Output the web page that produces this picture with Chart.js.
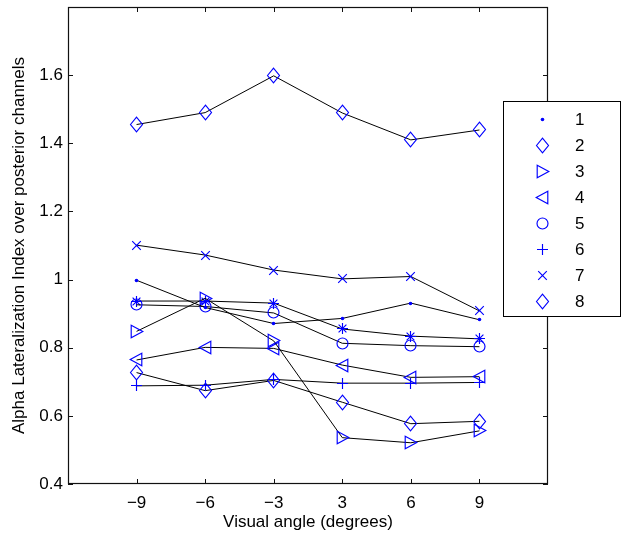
<!DOCTYPE html>
<html>
<head>
<meta charset="utf-8">
<script src="https://cdn.jsdelivr.net/npm/chart.js@4/dist/chart.umd.min.js"></script>
<style>
  html, body { margin: 0; padding: 0; background: #fff; }
  #wrap { width: 621px; height: 536px; }
</style>
</head>
<body>
<div id="wrap"><canvas id="c" width="621" height="536"></canvas></div>
<script>
// ---- data ----
const angleLabels = ['\u22129', '\u22126', '\u22123', '3', '6', '9'];
const legendNames = ['1', '2', '3', '4', '5', '6', '7', '8'];
const s1 = [0.998, 0.918, 0.871, 0.886, 0.931, 0.882];
const s2 = [1.455, 1.490, 1.598, 1.489, 1.410, 1.439];
const s3 = [0.848, 0.945, 0.820, 0.536, 0.521, 0.556];
const s4 = [0.764, 0.801, 0.798, 0.749, 0.713, 0.715];
const s5 = [0.926, 0.921, 0.902, 0.813, 0.806, 0.803];
const s6 = [0.688, 0.690, 0.707, 0.696, 0.696, 0.698];
const s7 = [1.101, 1.072, 1.028, 1.002, 1.009, 0.908];
const s8 = [0.727, 0.674, 0.704, 0.640, 0.577, 0.584];
const s9 = [0.937, 0.937, 0.931, 0.855, 0.834, 0.826];
const yTicks = [0.4, 0.6, 0.8, 1.0, 1.2, 1.4, 1.6, 1.8];

const BLUE = '#0000ff';
const FONT = '"Liberation Sans", Arial, Helvetica, sans-serif';

function makeMarker(type) {
  const S = 21, c = S / 2;
  const cv = document.createElement('canvas');
  cv.width = S; cv.height = S;
  const g = cv.getContext('2d');
  g.strokeStyle = BLUE; g.fillStyle = BLUE; g.lineWidth = 1.15;
  g.beginPath();
  if (type === 'dot') {
    g.arc(c, c, 1.8, 0, Math.PI * 2); g.fill(); return cv;
  } else if (type === 'diamond') {
    g.moveTo(c - 6, c); g.lineTo(c, c - 7.3); g.lineTo(c + 6, c); g.lineTo(c, c + 7.3); g.closePath();
  } else if (type === 'tright') {
    g.moveTo(c - 5.3, c - 6.3); g.lineTo(c + 6.3, c); g.lineTo(c - 5.3, c + 6.3); g.closePath();
  } else if (type === 'tleft') {
    g.moveTo(c + 5.3, c - 6.3); g.lineTo(c - 6.3, c); g.lineTo(c + 5.3, c + 6.3); g.closePath();
  } else if (type === 'circle') {
    g.arc(c, c, 5.5, 0, Math.PI * 2);
  } else if (type === 'plus') {
    g.moveTo(c - 5.5, c); g.lineTo(c + 5.5, c); g.moveTo(c, c - 5.5); g.lineTo(c, c + 5.5);
  } else if (type === 'x') {
    g.moveTo(c - 4.3, c - 4.3); g.lineTo(c + 4.3, c + 4.3); g.moveTo(c + 4.3, c - 4.3); g.lineTo(c - 4.3, c + 4.3);
  } else if (type === 'star') {
    g.moveTo(c - 5.5, c); g.lineTo(c + 5.5, c); g.moveTo(c, c - 5.5); g.lineTo(c, c + 5.5);
    g.moveTo(c - 3.9, c - 3.9); g.lineTo(c + 3.9, c + 3.9); g.moveTo(c + 3.9, c - 3.9); g.lineTo(c - 3.9, c + 3.9);
  }
  g.stroke();
  return cv;
}

const markers = {
  dot: makeMarker('dot'), diamond: makeMarker('diamond'), tright: makeMarker('tright'),
  tleft: makeMarker('tleft'), circle: makeMarker('circle'), plus: makeMarker('plus'),
  x: makeMarker('x'), star: makeMarker('star')
};

const seriesList = [
  { vals: s1, m: 'dot' }, { vals: s2, m: 'diamond' }, { vals: s3, m: 'tright' },
  { vals: s4, m: 'tleft' }, { vals: s5, m: 'circle' }, { vals: s6, m: 'plus' },
  { vals: s7, m: 'x' }, { vals: s8, m: 'diamond' }, { vals: s9, m: 'star' }
];

const datasets = seriesList.map((s, i) => ({
  label: legendNames[i] || '',
  data: s.vals.map((v, k) => ({ x: k + 1, y: v })),
  borderColor: '#000',
  borderWidth: 1,
  pointStyle: markers[s.m],
  pointRadius: 6,
  pointHoverRadius: 6,
  tension: 0,
  fill: false
}));

const framePlugin = {
  id: 'frame',
  beforeDatasetsDraw(chart) {
    chart.ctx.imageSmoothingEnabled = false;
  },
  afterDraw(chart) {
    const ctx = chart.ctx;
    const a = chart.chartArea;
    const xs = chart.scales.x, ys = chart.scales.y;
    ctx.save();
    ctx.imageSmoothingEnabled = false;
    ctx.strokeStyle = '#111';
    ctx.lineWidth = 1.2;
    ctx.strokeRect(a.left + 0.5, a.top + 0.5, a.right - a.left - 1, a.bottom - a.top - 1);
    ctx.beginPath();
    for (let k = 1; k <= angleLabels.length; k++) {
      const px = Math.round(xs.getPixelForValue(k)) + 0.5;
      ctx.moveTo(px, a.bottom); ctx.lineTo(px, a.bottom - 5);
      ctx.moveTo(px, a.top); ctx.lineTo(px, a.top + 5);
    }
    yTicks.forEach(v => {
      const py = Math.round(ys.getPixelForValue(v)) + 0.5;
      ctx.moveTo(a.left, py); ctx.lineTo(a.left + 5, py);
      ctx.moveTo(a.right, py); ctx.lineTo(a.right - 5, py);
    });
    ctx.lineWidth = 1;
    ctx.stroke();

    // legend box
    const lx = 503.5, ly = 101.5, lw = 117, lh = 215;
    ctx.fillStyle = '#fff';
    ctx.fillRect(lx, ly, lw, lh);
    ctx.strokeStyle = '#000';
    ctx.strokeRect(lx, ly, lw, lh);
    ctx.fillStyle = '#000';
    ctx.font = '17px ' + FONT;
    ctx.textBaseline = 'middle';
    ctx.textAlign = 'left';
    for (let i = 0; i < legendNames.length; i++) {
      const cy = 119 + i * 26.1;
      const img = markers[seriesList[i].m];
      ctx.drawImage(img, Math.round(542 - img.width / 2), Math.round(cy - img.height / 2));
      ctx.fillText(legendNames[i], 575, cy + 1);
    }
    ctx.restore();
  }
};

new Chart(document.getElementById('c'), {
  type: 'line',
  data: { datasets },
  options: {
    responsive: false,
    animation: false,
    events: [],
    layout: { padding: { top: 5, right: 73, left: 0, bottom: 0 } },
    plugins: { legend: { display: false }, tooltip: { enabled: false } },
    scales: {
      x: {
        type: 'linear', min: 0, max: 7,
        grid: { display: false, drawTicks: false },
        border: { display: false },
        ticks: {
          stepSize: 1, autoSkip: false, maxRotation: 0, padding: 9,
          color: '#000', font: { family: FONT, size: 17 },
          callback: (v) => (v >= 1 && v <= angleLabels.length && Number.isInteger(v)) ? angleLabels[v - 1] : ''
        },
        title: { display: true, text: 'Visual angle (degrees)', color: '#000',
          font: { family: FONT, size: 17 }, padding: { top: 0, bottom: 3 } },
        afterFit: (s) => { s.height = 52; s.paddingLeft = 0; s.paddingRight = 0; }
      },
      y: {
        min: 0.4, max: 1.8,
        grid: { display: false, drawTicks: false },
        border: { display: false },
        ticks: {
          stepSize: 0.2, padding: 5, color: '#000', font: { family: FONT, size: 17 },
          callback: (v) => v > 1.7 ? '' : String(+v.toFixed(1))
        },
        title: { display: true, text: 'Alpha Lateralization Index over posterior channels', color: '#000',
          font: { family: FONT, size: 17 }, padding: { top: 9, bottom: 0 } },
        afterFit: (s) => { s.width = 68; s.paddingTop = 0; s.paddingBottom = 0; }
      }
    }
  },
  plugins: [framePlugin]
});
</script>
</body>
</html>
